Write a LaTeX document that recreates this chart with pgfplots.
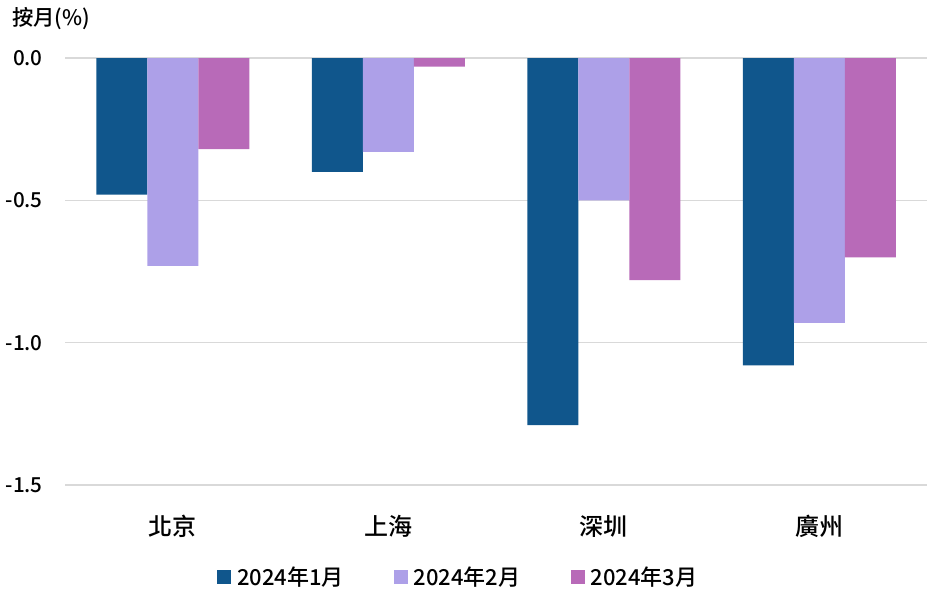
\documentclass[border=0pt]{standalone}
\usepackage{fontspec}
\setmainfont{Noto Sans CJK TC}[UprightFont=* Medium, BoldFont=* Bold]
\usepackage{pgfplots}
\pgfplotsset{compat=1.18}
\definecolor{cJan}{HTML}{10568C}
\definecolor{cFeb}{HTML}{ADA0E8}
\definecolor{cMar}{HTML}{B86AB8}
\definecolor{gridc}{HTML}{D9D9D9}
\begin{document}
\begin{tikzpicture}
\path[use as bounding box] (0,0) rectangle (695.25pt,-445.5pt);
\node[anchor=west, inner sep=0pt, font=\fontsize{16}{19}\selectfont] at (9pt,-14.25pt) {按月(\%)};
\begin{axis}[
  at={(48.75pt,-363.75pt)}, anchor=south west,
  scale only axis, width=646.5pt, height=320.25pt,
  ybar, bar width=38.25pt,
  xmin=-0.5, xmax=3.5, ymin=-1.5, ymax=0,
  xtick={0,1,2,3}, xticklabels={北京,上海,深圳,廣州},
  ytick={-1.5,-1,-0.5,0}, yticklabels={-1.5,-1.0,-0.5,0.0},
  axis line style={draw=none}, major tick length=0pt,
  ymajorgrids, grid style={color=gridc, line width=0.9pt},
  yticklabel style={font=\fontsize{15.5}{18}\selectfont, anchor=east, inner sep=0pt, xshift=-16.5pt},
  xticklabel style={font=\fontsize{18}{21}\selectfont, anchor=center, inner sep=0pt, yshift=-30.75pt},
  legend style={at={(0.4565,-0.215)}, anchor=center, legend columns=3, draw=none,
    font=\fontsize{16.5}{19}\selectfont,
    /tikz/every even column/.append style={column sep=35.5pt}},
  legend cell align=left,
]
\addplot[fill=cJan, draw=none, bar shift=-38.25pt, legend image code/.code={\fill[cJan] (0pt,-5.25pt) rectangle (10.5pt,5.25pt); \path (13pt,0pt);}]
  coordinates {(0,-0.48) (1,-0.40) (2,-1.29) (3,-1.08)};
\addplot[fill=cFeb, draw=none, bar shift=0pt, legend image code/.code={\fill[cFeb] (0pt,-5.25pt) rectangle (10.5pt,5.25pt); \path (13pt,0pt);}]
  coordinates {(0,-0.73) (1,-0.33) (2,-0.50) (3,-0.93)};
\addplot[fill=cMar, draw=none, bar shift=38.25pt, legend image code/.code={\fill[cMar] (0pt,-5.25pt) rectangle (10.5pt,5.25pt); \path (13pt,0pt);}]
  coordinates {(0,-0.32) (1,-0.03) (2,-0.78) (3,-0.70)};
\legend{2024年1月,2024年2月,2024年3月}
\end{axis}
\end{tikzpicture}
\end{document}
